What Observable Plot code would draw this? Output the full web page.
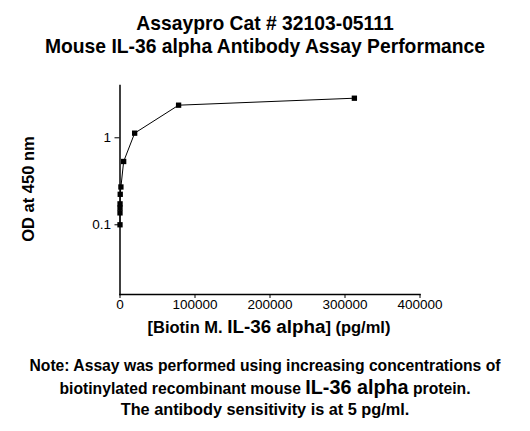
<!DOCTYPE html>
<html><head><meta charset="utf-8">
<script src="https://cdn.jsdelivr.net/npm/d3@7"></script>
<script src="https://cdn.jsdelivr.net/npm/@observablehq/plot@0.6"></script>
<style>
body{margin:0;background:#fff;width:530px;font-family:"Liberation Sans",Arial,sans-serif;color:#000}
#title{height:60px;box-sizing:border-box;padding-top:11.6px;text-align:center;font-weight:bold;font-size:19.3px;line-height:23.4px;white-space:nowrap}
#chart{height:290px}
#chart svg{display:block}
#note{margin-top:6px;text-align:center;font-weight:bold;font-size:15.7px;line-height:20.7px;white-space:nowrap}
.big{font-size:19.8px}
.l3{font-size:16.3px}
</style></head><body>
<div id="title">Assaypro Cat # 32103-05111<br>Mouse IL-36 alpha Antibody Assay Performance</div>
<div id="chart"></div>
<div id="note">Note: Assay was performed using increasing concentrations of<br>biotinylated recombinant mouse <span class="big">IL-36 alpha</span> protein.<br><span class="l3">The antibody sensitivity is at 5 pg/ml.</span></div>
<script>
const conc = [312500, 78125, 19531, 4883, 1221, 305, 76, 19, 4.8, 1.2];
const od = [2.85, 2.37, 1.13, 0.534, 0.272, 0.224, 0.174, 0.156, 0.137, 0.100];
const xTicks = [0, 100000, 200000, 300000, 400000];
const yTicks = [0.1, 1];
const yTickLabels = ["0.1", "1"];
const data = conc.map((c, i) => ({conc: c, od: od[i]}));

const plot = Plot.plot({
  width: 530, height: 290,
  marginTop: 25, marginBottom: 56, marginLeft: 119.5, marginRight: 110.5,
  style: {fontFamily: "Liberation Sans, Arial, sans-serif", fontSize: "13.5px", background: "white", color: "black", overflow: "visible"},
  x: {domain: [0, 400000]},
  y: {type: "log", domain: [0.0158, 3.99]},
  marks: [
    Plot.axisX({ticks: xTicks, tickFormat: d3.format("d"), tickSize: 4, tickPadding: 1, label: null}),
    Plot.axisY({ticks: yTicks, tickFormat: d => yTickLabels[yTicks.indexOf(d)], tickSize: 5, tickPadding: 4, label: null}),
    Plot.frame({anchor: "left", stroke: "black", strokeWidth: 1.5}),
    Plot.frame({anchor: "bottom", stroke: "black", strokeWidth: 1.5}),
    Plot.line(data, {x: "conc", y: "od", stroke: "black", strokeWidth: 1}),
    Plot.dot(data, {x: "conc", y: "od", symbol: "square", r: 3, fill: "black", stroke: null})
  ]
});
document.getElementById("chart").appendChild(plot);

const svg = d3.select(plot);
const xt = svg.append("text").attr("x", 269).attr("y", 273)
  .attr("text-anchor", "middle").attr("font-weight", "bold").attr("fill", "black")
  .attr("font-family", "Liberation Sans, Arial, sans-serif");
xt.append("tspan").attr("font-size", "16.5px").text("[Biotin M. ");
xt.append("tspan").attr("font-size", "18.8px").text("IL-36 alpha");
xt.append("tspan").attr("font-size", "16.5px").text("] (pg/ml)");

svg.append("text").attr("transform", "translate(28,129) rotate(-90)")
  .attr("text-anchor", "middle").attr("dy", "0.35em")
  .attr("font-weight", "bold").attr("font-size", "16.5px").attr("fill", "black")
  .attr("font-family", "Liberation Sans, Arial, sans-serif")
  .text("OD at 450 nm");
</script>
</body></html>
